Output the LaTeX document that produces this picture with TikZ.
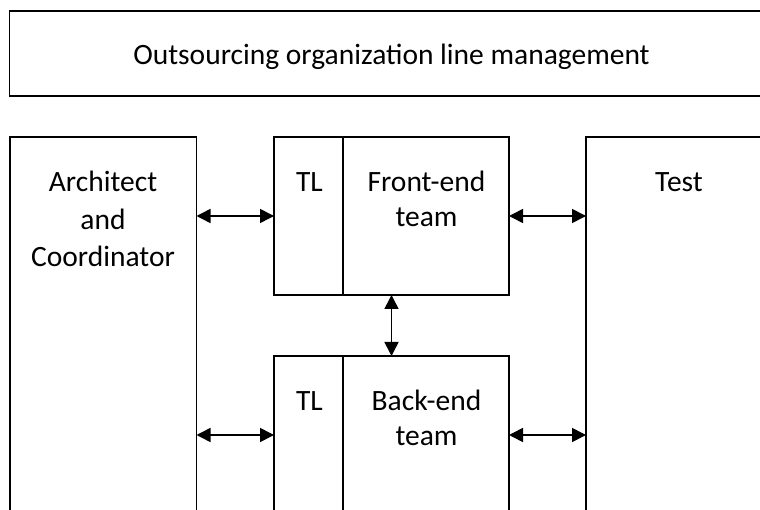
\documentclass[tikz,border=0pt]{standalone}
\usepackage{fontspec}
\setmainfont{Carlito}
\usetikzlibrary{arrows.meta}
\begin{document}
\begin{tikzpicture}[x=1pt,y=-1pt,
  box/.style={draw, line width=1.6pt, rectangle, inner sep=0pt, outer sep=0pt},
  lbl/.style={font=\fontsize{29.5}{36}\selectfont, anchor=base, inner sep=0pt, align=center},
  link/.style={line width=1.6pt, {Triangle[length=14pt,width=14pt]}-{Triangle[length=14pt,width=14pt]}}]
  \useasboundingbox (0,0) rectangle (760,510);
  \clip (0,0) rectangle (760,510);

  % boxes (the outer ones run past the page edges)
  \node[box, minimum width=764pt, minimum height=85pt] (mgmt) at (391.5,53.5) {};
  \node[box, minimum width=186.5pt, minimum height=393pt] (arch) at (103.25,333.5) {};
  \node[box, minimum width=186pt, minimum height=393pt] (test) at (679,333.5) {};
  \node[box, minimum width=235pt, minimum height=158pt] (front) at (391.5,216) {};
  \node[box, minimum width=69pt, minimum height=158pt] (tlf) at (308.5,216) {};
  \node[box, minimum width=235pt, minimum height=158pt] (back) at (391.5,435) {};
  \node[box, minimum width=69pt, minimum height=158pt] (tlb) at (308.5,435) {};

  % labels (base anchor sits on the last line)
  \node[lbl] (tmgmt) at (391.5,65) {Outsourcing organization line management};
  \node[lbl, font=\fontsize{29.5}{37.5}\selectfont] (tarch) at (103,266.7) {Architect\\and\\Coordinator};
  \node[lbl] (ttest) at (679,191.7) {Test};
  \node[lbl] (ttlf) at (309.5,191.7) {TL};
  \node[lbl, font=\fontsize{29.5}{35}\selectfont] (tfront) at (426.5,226.7) {Front-end\\team};
  \node[lbl] (ttlb) at (309.5,410) {TL};
  \node[lbl, font=\fontsize{29.5}{35.5}\selectfont] (tback) at (426.5,445.7) {Back-end\\team};

  % connectors
  \draw[link] (arch.east |- tlf.west) -- (tlf.west);
  \draw[link] (front.east) -- (front.east -| test.west);
  \draw[link] (arch.east |- tlb.west) -- (tlb.west);
  \draw[link] (back.east) -- (back.east -| test.west);
  \draw[link] (front.south) -- (back.north);
\end{tikzpicture}
\end{document}
